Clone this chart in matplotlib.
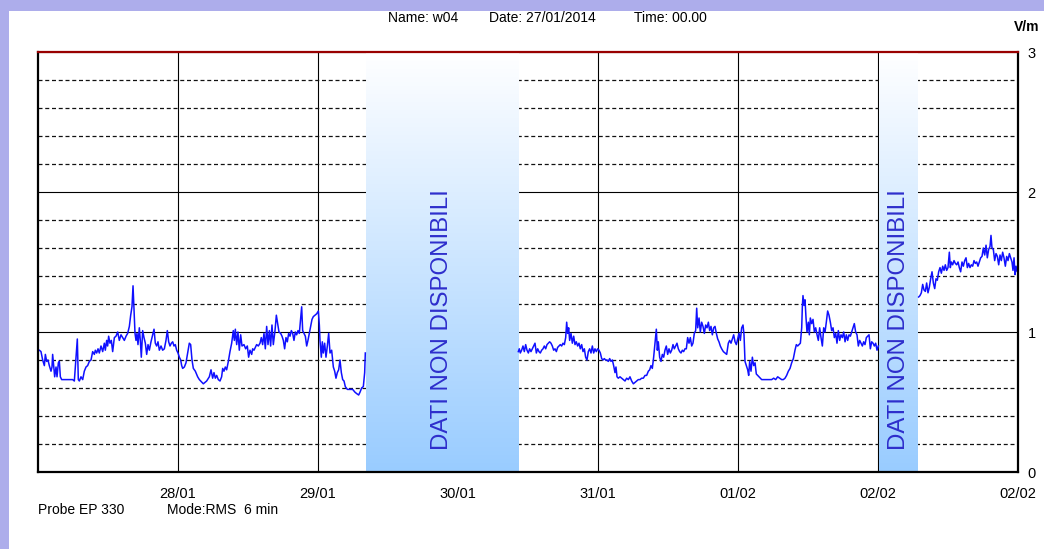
import numpy as np
import matplotlib
matplotlib.use("Agg")
import matplotlib.pyplot as plt
from matplotlib.colors import LinearSegmentedColormap
from matplotlib.patches import Rectangle
from matplotlib.ticker import MultipleLocator

plt.rcParams['font.family'] = ['Liberation Sans', 'DejaVu Sans']

# ---------------- data (hours since 27/01/2014 00:00, V/m) ----------------
seg1_hours = [0.0, 0.23, 0.51, 0.80, 1.09, 1.26, 1.49, 1.71, 1.94, 2.23, 2.40, 2.51, 2.69, 2.86, 3.09, 3.26, 3.49, 3.66, 3.83, 4.06,
              4.23, 5.09, 5.94, 6.23, 6.51, 6.74, 6.91, 7.09, 7.37, 7.66, 7.94, 8.23, 8.51, 8.80, 9.09, 9.37, 9.66, 9.83, 10.06, 10.29,
              10.51, 10.80, 11.09, 11.37, 11.54, 11.77, 11.94, 12.11, 12.34, 12.57, 12.80, 13.09, 13.37, 13.66, 13.94, 14.23, 14.51, 14.80, 15.09, 15.37,
              15.66, 15.89, 16.11, 16.29, 16.46, 16.63, 16.80, 16.97, 17.14, 17.37, 17.54, 17.71, 17.94, 18.17, 18.40, 18.63, 18.86, 19.09, 19.37, 19.66,
              19.89, 20.11, 20.34, 20.57, 20.80, 21.09, 21.37, 21.66, 21.94, 22.17, 22.40, 22.63, 22.86, 23.09, 23.31, 23.54, 23.77, 24.00, 24.23, 24.46,
              24.63, 24.80, 25.09, 25.37, 25.66, 25.94, 26.17, 26.40, 26.63, 26.97, 27.37, 27.66,
              28.34, 28.91, 29.37, 29.66, 29.94, 30.17, 30.40, 30.63, 30.91, 31.20,
              31.48, 31.66, 31.88, 32.11, 32.34, 32.63, 32.91, 33.20, 33.48, 33.66,
              33.83, 34.06, 34.28, 34.51, 34.74, 34.97, 35.31, 35.60, 35.88, 36.11,
              36.34, 36.63, 36.80, 37.03, 37.26, 37.48, 37.77, 38.06, 38.28, 38.51,
              38.74, 38.97, 39.20, 39.43, 39.66, 39.88, 40.11, 40.34, 40.63, 40.86,
              41.08, 41.31, 41.60, 41.83, 42.06, 42.28, 42.51, 42.74, 42.97, 43.20,
              43.43, 43.66, 43.88, 44.11, 44.34, 44.57, 44.80, 45.03, 45.20, 45.37,
              45.60, 45.83, 46.06, 46.28, 46.51, 46.74, 46.97, 47.20, 47.48, 47.77,
              48.06, 48.23, 48.34, 48.57, 48.74, 48.91, 49.14, 49.37, 49.60, 49.83,
              50.06, 50.34, 50.63, 50.86, 51.08, 51.31, 51.54, 51.77, 52.00, 52.23,
              52.46, 52.68, 53.03, 53.48, 53.94, 54.34, 54.63, 54.97, 55.20, 55.48,
              55.77, 56.00, 56.11]
seg1_vals = [0.87, 0.87, 0.86, 0.80, 0.76, 0.84, 0.79, 0.80, 0.76, 0.72, 0.75, 0.84, 0.76, 0.68, 0.75, 0.68, 0.78, 0.79, 0.68, 0.66,
             0.66, 0.66, 0.66, 0.65, 0.82, 0.95, 0.66, 0.65, 0.68, 0.66, 0.72, 0.75, 0.76, 0.79, 0.80, 0.86, 0.84, 0.87, 0.85, 0.88,
             0.85, 0.90, 0.86, 0.92, 0.87, 0.94, 0.90, 0.97, 0.92, 0.94, 0.86, 0.96, 0.97, 1.00, 0.94, 0.98, 0.96, 0.94, 0.97, 0.99,
             1.04, 1.12, 1.18, 1.33, 1.15, 0.99, 0.94, 0.99, 0.91, 1.03, 0.94, 0.82, 1.01, 0.96, 0.92, 0.84, 0.91, 0.87, 0.93, 0.98,
             1.02, 0.92, 0.90, 0.93, 0.87, 0.90, 0.87, 0.88, 0.94, 1.01, 0.93, 0.90, 0.92, 0.93, 0.90, 0.91, 0.87, 0.85, 0.82, 0.80,
             0.76, 0.74, 0.75, 0.78, 0.85, 0.92, 0.91, 0.80, 0.74, 0.72, 0.68, 0.66,
             0.63, 0.65, 0.68, 0.73, 0.67, 0.71, 0.67, 0.69, 0.66, 0.65,
             0.68, 0.74, 0.72, 0.75, 0.73, 0.79, 0.86, 0.92, 1.01, 0.94,
             1.02, 0.91, 1.00, 0.87, 0.98, 0.90, 0.91, 0.88, 0.90, 0.82,
             0.87, 0.84, 0.88, 0.87, 0.89, 0.91, 0.90, 0.92, 0.96, 0.91,
             0.99, 0.88, 1.04, 0.91, 1.01, 0.90, 1.05, 0.91, 1.01, 1.12,
             1.06, 1.00, 0.99, 0.97, 0.94, 0.88, 0.96, 0.93, 0.99, 0.97,
             1.01, 0.99, 0.94, 1.00, 0.98, 1.01, 0.99, 1.10, 1.18, 1.01,
             0.99, 0.97, 0.90, 0.94, 0.99, 1.04, 1.09, 1.11, 1.12, 1.13,
             1.15, 1.05, 0.94, 0.82, 0.93, 0.85, 0.92, 0.82, 0.90, 0.99,
             0.85, 0.87, 0.75, 0.72, 0.67, 0.71, 0.73, 0.80, 0.71, 0.66,
             0.65, 0.61, 0.59, 0.59, 0.59, 0.57, 0.56, 0.55, 0.57, 0.60,
             0.61, 0.71, 0.85]

seg2_hours = [82.34, 82.51, 82.68, 82.91, 83.14, 83.37, 83.60, 83.83, 84.06, 84.28,
              84.51, 84.74, 84.97, 85.20, 85.43, 85.66, 85.88, 86.11, 86.34, 86.57,
              86.80, 87.03, 87.26, 87.48, 87.71, 87.94, 88.17, 88.40, 88.63, 88.86,
              89.08, 89.31, 89.54, 89.77, 90.00, 90.23, 90.46, 90.63, 90.80, 90.97,
              91.14, 91.37, 91.60, 91.83, 92.06, 92.28, 92.51, 92.74, 92.97, 93.20,
              93.43, 93.66, 93.88, 94.11, 94.34, 94.57, 94.80, 95.03, 95.26, 95.48,
              95.71, 95.94, 96.17, 96.40, 96.63, 96.86, 97.08, 97.31, 97.54, 97.77,
              98.00, 98.23, 98.46, 98.68, 98.91, 99.08, 99.26, 99.48, 99.77, 100.06,
              100.34, 100.63, 100.91, 101.20, 101.48, 101.77, 102.06, 102.34, 102.63, 102.91,
              103.20, 103.48, 103.77, 104.06, 104.34, 104.63, 104.86, 105.08, 105.31, 105.54,
              105.77, 106.00, 106.17, 106.34, 106.57, 106.80, 107.03, 107.26, 107.48, 107.71,
              107.94, 108.17, 108.40, 108.63, 108.86, 109.08, 109.31, 109.54, 109.77, 110.00,
              110.23, 110.46, 110.68, 110.91, 111.14, 111.37, 111.60, 111.83, 112.06, 112.28,
              112.51, 112.74,
              112.92, 113.09, 113.32, 113.54, 113.77, 114.00, 114.23, 114.46, 114.69, 114.92,
              115.14, 115.37, 115.60, 115.83, 116.06, 116.29, 116.52, 116.74, 116.97, 117.20,
              117.49, 117.77, 118.06, 118.34, 118.57, 118.80, 119.03, 119.26, 119.49, 119.72,
              119.94, 120.17, 120.40, 120.63, 120.86, 121.03, 121.20, 121.43, 121.66, 121.83,
              122.00, 122.23, 122.46, 122.69, 122.92, 123.14, 123.37, 123.60, 123.83, 124.06,
              124.40, 124.74, 125.09, 125.43, 125.77, 126.12, 126.46, 126.80, 127.14, 127.49,
              127.77, 128.06, 128.34, 128.63, 128.92, 129.20, 129.49, 129.77, 130.00, 130.23,
              130.46, 130.69, 130.92, 131.03, 131.14, 131.32, 131.49, 131.66, 131.83, 132.06,
              132.23, 132.40, 132.63, 132.86, 133.09, 133.32, 133.55, 133.77, 134.00, 134.23,
              134.46, 134.69, 134.92, 135.14, 135.37, 135.60, 135.83, 136.06, 136.29, 136.52,
              136.75, 136.97, 137.20, 137.43, 137.66, 137.89, 138.12, 138.35, 138.57, 138.80,
              139.03, 139.26, 139.49, 139.72, 139.94, 140.17, 140.40, 140.63, 140.86, 141.09,
              141.32, 141.54, 141.77, 142.00, 142.23, 142.46, 142.69, 142.92, 143.15, 143.37,
              143.60, 143.83, 144.06]
seg2_vals = [0.86, 0.88, 0.85, 0.87, 0.90, 0.86, 0.91, 0.87, 0.85, 0.88,
             0.86, 0.88, 0.90, 0.92, 0.85, 0.88, 0.86, 0.85, 0.87, 0.88,
             0.90, 0.88, 0.91, 0.92, 0.93, 0.92, 0.90, 0.87, 0.88, 0.86,
             0.89, 0.90, 0.91, 0.90, 0.92, 0.91, 0.96, 1.07, 0.99, 1.03,
             0.94, 0.99, 0.92, 0.97, 0.91, 0.93, 0.90, 0.92, 0.88, 0.91,
             0.86, 0.88, 0.82, 0.80, 0.86, 0.88, 0.85, 0.90, 0.85, 0.88,
             0.86, 0.88, 0.87, 0.85, 0.81, 0.80, 0.81, 0.80, 0.80, 0.79,
             0.81, 0.79, 0.80, 0.76, 0.71, 0.75, 0.68, 0.67, 0.68, 0.67,
             0.66, 0.65, 0.67, 0.66, 0.68, 0.65, 0.63, 0.64, 0.65, 0.66,
             0.66, 0.67, 0.67, 0.69, 0.69, 0.72, 0.73, 0.76, 0.74, 0.82,
             0.92, 1.02, 0.87, 0.93, 0.82, 0.79, 0.84, 0.82, 0.87, 0.90,
             0.84, 0.88, 0.85, 0.87, 0.91, 0.88, 0.90, 0.92, 0.88, 0.86,
             0.85, 0.87, 0.86, 0.88, 0.88, 0.96, 0.92, 0.96, 0.90, 0.92,
             0.99, 1.01,
             1.17, 1.03, 1.10, 1.00, 1.07, 1.04, 0.99, 1.05, 1.03, 1.07,
             1.01, 1.04, 0.98, 1.03, 1.04, 0.99, 0.95, 0.93, 0.90, 0.88,
             0.86, 0.85, 0.84, 0.92, 0.94, 0.92, 0.95, 0.98, 0.93, 0.91,
             0.95, 0.99, 0.94, 1.03, 1.05, 0.98, 0.79, 0.76, 0.73, 0.69,
             0.79, 0.72, 0.82, 0.76, 0.78, 0.70, 0.69, 0.68, 0.67, 0.66,
             0.66, 0.66, 0.66, 0.66, 0.66, 0.67, 0.66, 0.68, 0.67, 0.66,
             0.66, 0.67, 0.69, 0.72, 0.74, 0.78, 0.81, 0.87, 0.91, 0.90,
             0.91, 0.92, 1.03, 1.18, 1.26, 1.19, 1.23, 1.10, 1.00, 1.07,
             0.98, 1.10, 1.06, 1.09, 1.00, 1.03, 0.98, 0.94, 1.03, 0.96,
             0.90, 1.03, 1.00, 1.07, 1.15, 1.12, 1.07, 1.01, 1.03, 0.96,
             0.99, 0.92, 1.01, 0.94, 0.98, 0.96, 1.00, 0.93, 0.98, 0.94,
             0.98, 0.97, 1.00, 1.03, 1.06, 1.00, 0.98, 0.90, 0.94, 0.92,
             0.90, 0.93, 0.91, 0.96, 0.97, 0.98, 0.88, 0.93, 0.92, 0.90,
             0.92, 0.87, 0.90]

seg3_hours = [150.97, 151.20, 151.43, 151.66, 151.89, 152.12, 152.34, 152.57, 152.80, 153.03,
              153.26, 153.49, 153.72, 153.94, 154.17, 154.40, 154.63, 154.86, 155.09, 155.32,
              155.54, 155.77, 156.00, 156.23, 156.40, 156.57, 156.80, 157.03, 157.26, 157.49,
              157.72, 157.94, 158.17, 158.40, 158.63, 158.86, 159.09, 159.32, 159.54, 159.77,
              160.00, 160.23, 160.46, 160.69, 160.92, 161.14, 161.37, 161.60, 161.83, 162.06,
              162.29, 162.52, 162.74, 162.97, 163.20, 163.37, 163.54, 163.77, 164.00, 164.23,
              164.46, 164.69, 164.92, 165.14, 165.37, 165.60, 165.83, 166.06, 166.29, 166.52,
              166.74, 166.97, 167.14, 167.32, 167.49, 167.66, 167.89, 168.00]
seg3_vals = [1.25, 1.26, 1.28, 1.34, 1.30, 1.29, 1.35, 1.28, 1.32, 1.38,
             1.43, 1.35, 1.31, 1.38, 1.37, 1.43, 1.46, 1.42, 1.47, 1.44,
             1.48, 1.44, 1.46, 1.57, 1.46, 1.50, 1.48, 1.51, 1.49, 1.48,
             1.50, 1.46, 1.43, 1.50, 1.47, 1.51, 1.53, 1.46, 1.49, 1.46,
             1.48, 1.47, 1.51, 1.49, 1.50, 1.47, 1.50, 1.53, 1.54, 1.60,
             1.55, 1.62, 1.53, 1.59, 1.61, 1.69, 1.60, 1.59, 1.51, 1.56,
             1.54, 1.48, 1.55, 1.51, 1.57, 1.53, 1.47, 1.54, 1.51, 1.56,
             1.53, 1.50, 1.44, 1.53, 1.41, 1.47, 1.43, 1.44]

gap_intervals = [(56.2, 82.3), (144.2, 150.85)]   # hours with no data
gap_text = "DATI NON DISPONIBILI"
day_labels = ['28/01', '29/01', '30/01', '31/01', '01/02', '02/02', '02/02']
y_tick_values = [0, 1, 2, 3]
header_texts = ["Name: w04", "Date: 27/01/2014", "Time: 00.00"]
footer_texts = ["Probe EP 330", "Mode:RMS  6 min"]
unit_label = "V/m"

# ---------------- figure ----------------
W, H = 1044, 549
fig = plt.figure(figsize=(W / 100, H / 100), dpi=100, facecolor='#ADADEB')
fig.patches.append(Rectangle((9 / W, 0), 1 - 9 / W, (H - 11) / H, transform=fig.transFigure,
                             facecolor='white', edgecolor='none', zorder=-10))

ax = fig.add_axes([38 / W, (H - 472) / H, (1018 - 38) / W, (472 - 52) / H])
ax.set_zorder(1)
ax.set_facecolor('white')

# gridlines
ax.set_xlim(0, 168)
ax.set_ylim(0, 3)
ax.set_xticks([24 * (i + 1) for i in range(len(day_labels))])
ax.set_xticklabels(day_labels)
ax.set_yticks(y_tick_values)
ax.yaxis.set_minor_locator(MultipleLocator(0.2))
ax.set_axisbelow(True)
ax.grid(which='major', axis='both', color='black', lw=0.8, ls='-')
ax.grid(which='minor', axis='y', color='#111111', lw=0.9, ls=(0, (3.2, 2.2)))

ax.yaxis.tick_right()
ax.tick_params(axis='both', which='both', length=0, labelsize=10.5)
ax.tick_params(axis='x', pad=11)
ax.tick_params(axis='y', pad=7)

# gradient shading for missing data
cmap = LinearSegmentedColormap.from_list('gap', ['#FFFFFF', '#99CCFF'])
grad = np.linspace(1, 0, 256).reshape(-1, 1)
for (g0, g1) in gap_intervals:
    ax.imshow(grad, cmap=cmap, aspect='auto', origin='lower', extent=[g0, g1, 0, 3],
              zorder=1, interpolation='bilinear')
    ax.text((g0 + g1) / 2, 1.09, gap_text, rotation=90, ha='center', va='center',
            color='#2E2ECC', fontsize=17.3, zorder=4)
ax.set_xlim(0, 168)
ax.set_ylim(0, 3)

# data
for hrs, vals in [(seg1_hours, seg1_vals), (seg2_hours, seg2_vals), (seg3_hours, seg3_vals)]:
    ax.plot(hrs, vals, color='#1010FF', lw=1.1, zorder=3)

# spines
for side in ['left', 'bottom', 'right']:
    ax.spines[side].set_color('black')
    ax.spines[side].set_linewidth(1.6)
ax.spines['top'].set_color('#990000')
ax.spines['top'].set_linewidth(1.6)
for s in ax.spines.values():
    s.set_zorder(5)

# header / footer
hx = [388, 489, 634]
for x, t in zip(hx, header_texts):
    fig.text(x / W, 1 - 18 / H, t, ha='left', va='center', fontsize=10)
fx = [38, 167]
for x, t in zip(fx, footer_texts):
    fig.text(x / W, 1 - 510 / H, t, ha='left', va='center', fontsize=10)
fig.text(1014 / W, 1 - 27 / H, unit_label, ha='left', va='center', fontsize=10, fontweight='bold')

fig.savefig('out.png', dpi=100, facecolor=fig.get_facecolor())
